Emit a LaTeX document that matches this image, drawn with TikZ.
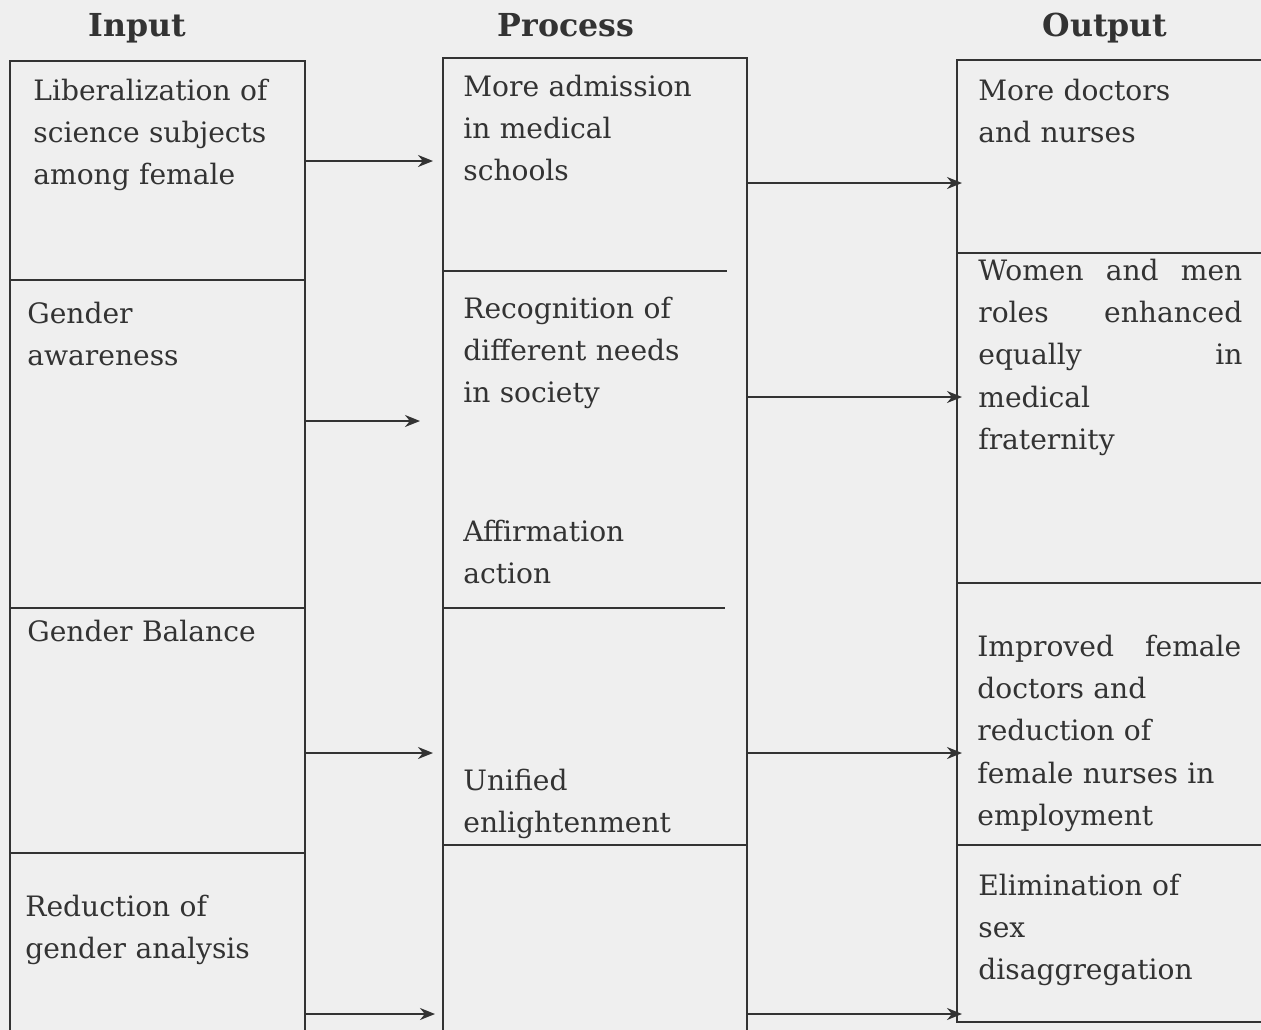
\documentclass[tikz,border=0pt]{standalone}
\usepackage{fontspec}
\setmainfont{DejaVu Serif}
\usetikzlibrary{arrows.meta}
\definecolor{ink}{HTML}{333333}
\definecolor{paper}{HTML}{EFEFEF}
\newcommand{\jline}[1]{\makebox[52.8mm][s]{#1}}
\begin{document}
\begin{tikzpicture}[x=0.2mm,y=-0.2mm,
    frame/.style={draw=ink,line width=0.4mm},
    flow/.style={draw=ink,line width=0.4mm,-{Stealth[length=3mm,width=2.4mm]}},
    head/.style={text=ink,font=\bfseries\fontsize{18}{20}\selectfont,anchor=base,inner sep=0},
    cell/.style={text=ink,font=\fontsize{16}{24.1}\selectfont,anchor=base west,inner sep=0,align=left,text width=#1},
    cell/.default=54mm]

\useasboundingbox[fill=paper] (0,0) rectangle (1261,1030);

% column heads
\node[head] (hin) at (137,36) {Input};
\node[head] (hproc) at (566,36) {Process};
\node[head] (hout) at (1105,36) {Output};

% frames
\draw[frame] (10,1030) -- (10,61) -- (305,61) -- (305,1030);
\foreach \y in {280,608,853}
    \draw[frame] (10,\y) -- (305,\y);
\draw[frame] (443,1030) -- (443,58) -- (747,58) -- (747,1030);
\foreach \y/\e in {271/727,608/725,845/747}
    \draw[frame] (443,\y) -- (\e,\y);
\draw[frame] (1261,60) -- (957,60) -- (957,1022) -- (1261,1022);
\foreach \y in {253,583,845}
    \draw[frame] (957,\y) -- (1261,\y);

% input
\node[cell] (in1) at (33,100) {Liberalization of\\science subjects\\among female};
\node[cell] (in2) at (27,323) {Gender\\awareness};
\node[cell] (in3) at (27,641) {Gender Balance};
\node[cell] (in4) at (25,916) {Reduction of\\gender analysis};

% process
\node[cell=56mm] (pr1) at (463,96) {More admission\\in medical\\schools};
\node[cell=56mm] (pr2) at (463,318) {Recognition of\\different needs\\in society};
\node[cell=56mm] (pr3) at (463,541) {Affirmation\\action};
\node[cell=56mm] (pr4) at (463,790) {Unified\\enlightenment};

% output
\node[cell=52.8mm] (out1) at (978,100) {More doctors\\and nurses};
\node[cell=52.8mm] (out2) at (978,280) {\jline{Women\hfill and\hfill men}\\\jline{roles\hfill enhanced}\\\jline{equally\hfill in}\\medical\\fraternity};
\node[cell=52.8mm] (out3) at (977,656) {\jline{Improved\hfill female}\\doctors and\\reduction of\\female nurses in\\employment};
\node[cell=52.8mm] (out4) at (978,895) {Elimination of\\sex\\disaggregation};

% arrows
\foreach \y/\e [count=\i] in {161/433,421/420,753/433,1014/435} {
    \coordinate (ia\i) at (305,\y);
    \coordinate (pa\i) at (\e,\y);
    \draw[flow] (ia\i) -- (pa\i);
}
\foreach \y [count=\i] in {183,397,753,1014} {
    \coordinate (pb\i) at (747,\y);
    \coordinate (ob\i) at (962,\y);
    \draw[flow] (pb\i) -- (ob\i);
}
\end{tikzpicture}
\end{document}
